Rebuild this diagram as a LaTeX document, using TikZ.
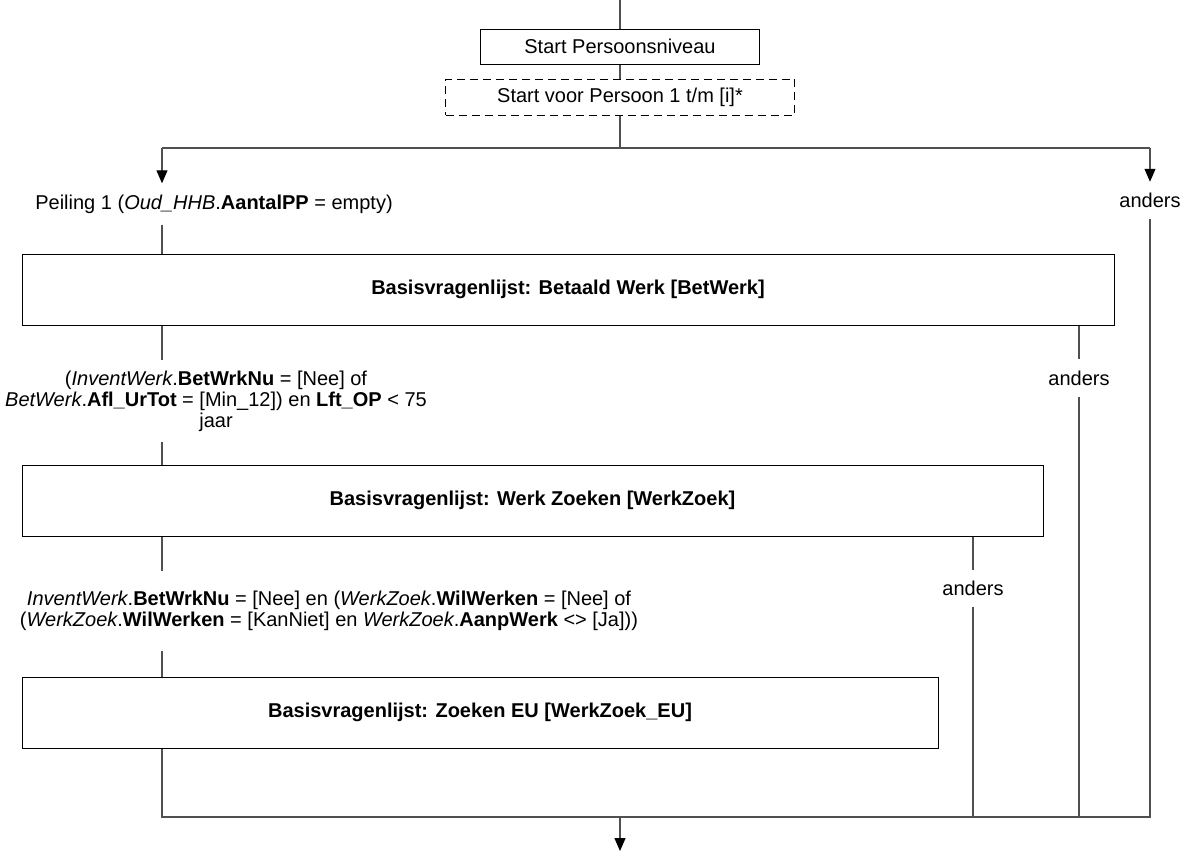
\documentclass[tikz,border=0pt]{standalone}
\usepackage{fontspec}
\setmainfont{Liberation Sans}
\usetikzlibrary{arrows.meta}
\definecolor{linegray}{RGB}{80,80,80}
\tikzset{
  flow/.style={
    x=0.5pt,
    y=-0.5pt,
    font=\fontsize{10}{10.5}\selectfont
  },
  box-solid/.style={draw=black, line width=0.5pt, minimum height=17.5pt, inner sep=0pt},
  box-dashed/.style={box-solid, dash pattern=on 4pt off 2.5pt},
  box-module/.style={draw=black, line width=0.5pt, minimum height=35.5pt, inner sep=0pt, font=\fontsize{10}{10.5}\selectfont\bfseries},
  cond-label/.style={inner xsep=2pt, inner ysep=5.5pt, align=center},
  flow-line/.style={draw=linegray, line width=0.6pt},
  flow-arrow/.style={flow-line, -{Triangle[width=5.5pt,length=6.5pt,color=black]}}
}

\begin{document}
\begin{tikzpicture}[flow]
  \useasboundingbox (0,0) rectangle (1189,852);
  % start of the person level
  \coordinate (entry) at (620,0);
  \node[box-solid, minimum width=139.5pt] (start) at (620,46.5) {Start Persoonsniveau};
  \node[box-dashed, minimum width=174.5pt, minimum height=18pt] (loop) at (620,97) {Start voor Persoon 1 t/m [i]*};
  \coordinate (split) at (620,148);
  \coordinate (splitL) at (162,148);
  \coordinate (splitR) at (1150,148);
  % branch labels and modules
  \node[cond-label] (peil) at (214,204) {Peiling 1 (\textit{Oud\_HHB}.\textbf{AantalPP} = empty)};
  \node[cond-label] (andersR) at (1150,200.5) {anders};
  \node[box-module, minimum width=546pt] (werk) at (568,289.5) {Basisvragenlijst: Betaald Werk [BetWerk]};
  \node[cond-label, inner ysep=5pt] (cond1) at (216,401) {(\textit{InventWerk}.\textbf{BetWrkNu} = [Nee] of\\
    \textit{BetWerk}.\textbf{Afl\_UrTot} = [Min\_12]) en \textbf{Lft\_OP} < 75\\
    jaar};
  \node[cond-label] (andersM) at (1079,378) {anders};
  \node[box-module, minimum width=510.5pt] (zoek) at (532.5,500.5) {Basisvragenlijst: Werk Zoeken [WerkZoek]};
  \node[cond-label, inner ysep=10pt] (cond2) at (329,611) {\textit{InventWerk}.\textbf{BetWrkNu} = [Nee] en (\textit{WerkZoek}.\textbf{WilWerken} = [Nee] of\\
    (\textit{WerkZoek}.\textbf{WilWerken} = [KanNiet] en \textit{WerkZoek}.\textbf{AanpWerk} <> [Ja]))};
  \node[cond-label] (andersL) at (973,588.5) {anders};
  \node[box-module, minimum width=458pt] (zoekEU) at (480,712.5) {Basisvragenlijst: Zoeken EU [WerkZoek\_EU]};
  % merge at the bottom
  \coordinate (join) at (620,817);
  \coordinate (joinL) at (162,817);
  \coordinate (joinR) at (1150,817);
  \coordinate (exit) at (620,851);
  % connectors
  \draw[flow-line] (entry) -- (start);
  \draw[flow-line] (start) -- (loop);
  \draw[flow-line] (loop) -- (split);
  \draw[flow-line] (splitL) -- (splitR);
  \draw[flow-arrow] (splitL) -- (peil.north -| splitL);
  \draw[flow-arrow] (splitR) -- (andersR);
  \draw[flow-line] (peil.south -| splitL) -- (werk.north -| splitL);
  \draw[flow-line] (werk.south -| splitL) -- (cond1.north -| splitL);
  \draw[flow-line] (cond1.south -| splitL) -- (zoek.north -| splitL);
  \draw[flow-line] (werk.south -| andersM) -- (andersM);
  \draw[flow-line] (zoek.south -| splitL) -- (cond2.north -| splitL);
  \draw[flow-line] (cond2.south -| splitL) -- (zoekEU.north -| splitL);
  \draw[flow-line] (zoek.south -| andersL) -- (andersL);
  \draw[flow-line] (zoekEU.south -| joinL) -- (joinL) -- (joinR) -- (andersR);
  \draw[flow-line] (andersM) -- (andersM |- joinL);
  \draw[flow-line] (andersL) -- (andersL |- joinL);
  \draw[flow-arrow] (join) -- (exit);
\end{tikzpicture}
\end{document}
